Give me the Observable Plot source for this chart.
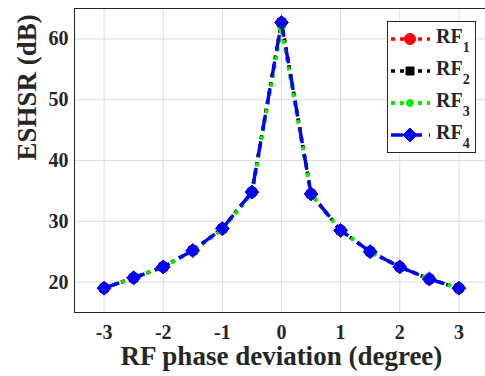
<!DOCTYPE html>
<html>
<head>
<meta charset="utf-8">
<script src="https://cdn.jsdelivr.net/npm/d3@7"></script>
<script src="https://cdn.jsdelivr.net/npm/@observablehq/plot@0.6"></script>
<style>
  html, body { margin: 0; padding: 0; background: #fff; }
  #wrap { position: relative; width: 485px; height: 376px; overflow: hidden; }
  #legend { position: absolute; left: 387px; top: 21px; }
  text { font-family: "Liberation Serif", "Times New Roman", serif; }
</style>
</head>
<body>
<div id="wrap"></div>
<script>
// ---- data ----
const phase = [-3, -2.5, -2, -1.5, -1, -0.5, 0, 0.5, 1, 1.5, 2, 2.5, 3];
const rf1 = [19.0, 20.7, 22.5, 25.2, 28.8, 34.8, 62.7, 34.5, 28.5, 25.0, 22.5, 20.5, 19.0];
const rf2 = [19.0, 20.7, 22.5, 25.2, 28.8, 34.8, 62.7, 34.5, 28.5, 25.0, 22.5, 20.5, 19.0];
const rf3 = [19.0, 20.7, 22.5, 25.1, 28.6, 34.6, 61.8, 34.5, 28.5, 25.0, 22.5, 20.5, 19.0];
const rf4 = [19.0, 20.7, 22.5, 25.2, 28.8, 34.8, 62.7, 34.5, 28.5, 25.0, 22.5, 20.5, 19.0];
const seriesNames = ["1", "2", "3", "4"];
const xTicks = [-3, -2, -1, 0, 1, 2, 3];
const yTicks = [20, 30, 40, 50, 60];
const xLabel = "RF phase deviation (degree)";
const yLabel = "ESHSR (dB)";

const styles = [
  {color: "#ff0000", dash: "4,5", symbol: "circle", r: 5.5, width: 3.5},
  {color: "#000000", dash: "4,5", symbol: "square", r: 4.5, width: 3.5},
  {color: "#00ee00", dash: "4,5", symbol: "circle", r: 3.5, width: 3.8},
  {color: "#0000ff", dash: "16,11", symbol: "diamond2", r: 6.3, width: 3.4}
];
const values = [rf1, rf2, rf3, rf4];

const font = '"Liberation Serif", "Times New Roman", serif';
const marks = [
  Plot.gridX(xTicks, {stroke: "#dcdcdc", strokeOpacity: 1}),
  Plot.gridY(yTicks, {stroke: "#dcdcdc", strokeOpacity: 1}),
  Plot.ruleX([-3.5], {stroke: "#262626"}),
  Plot.ruleY([15, 65], {stroke: "#262626"})
];
values.forEach((vals, k) => {
  const s = styles[k];
  marks.push(Plot.line(vals, {x: phase, y: vals, stroke: s.color, strokeWidth: s.width, strokeDasharray: s.dash, strokeLinecap: "butt", strokeLinejoin: "round"}));
  marks.push(Plot.dot(vals, {x: phase, y: vals, symbol: s.symbol, r: s.r, fill: s.color, stroke: s.color, strokeWidth: 1}));
});
marks.push(
  Plot.axisX(xTicks, {tickSize: 0, tickPadding: 12, fontSize: 20, fontWeight: "bold", fill: "#262626", label: null, tickFormat: d => String(d)}),
  Plot.axisY(yTicks, {tickSize: 0, tickPadding: 6, fontSize: 20, fontWeight: "bold", fill: "#262626", label: null, tickFormat: d => String(d)}),
  Plot.text([xLabel], {x: [0], frameAnchor: "bottom", dy: 44, lineAnchor: "middle", fontSize: 27, fontWeight: "bold", fill: "#262626"}),
  Plot.text([yLabel], {y: [40], frameAnchor: "left", dx: -47, rotate: -90, lineAnchor: "middle", fontSize: 27, fontWeight: "bold", fill: "#262626"})
);

const chart = Plot.plot({
  width: 485, height: 376,
  marginTop: 8, marginBottom: 64, marginLeft: 74, marginRight: 0,
  style: {fontFamily: font, background: "#fff"},
  x: {domain: [-3.5, 3.45], axis: null},
  y: {domain: [15, 65], axis: null},
  marks
});
document.getElementById("wrap").appendChild(chart);

// ---- legend ----
const lw = 88, lh = 131;
const leg = d3.select("#wrap").append("svg").attr("id", "legend")
  .attr("width", lw + 1).attr("height", lh + 1);
leg.append("rect").attr("x", 0.5).attr("y", 0.5).attr("width", lw).attr("height", lh)
  .attr("fill", "#fff").attr("stroke", "#262626");
seriesNames.forEach((n, k) => {
  const s = styles[k];
  const cy = 18 + k * 32;
  leg.append("line").attr("x1", 4).attr("x2", 43).attr("y1", cy).attr("y2", cy)
    .attr("stroke", s.color).attr("stroke-width", s.width).attr("stroke-dasharray", k === 3 ? "12,7" : s.dash);
  const sym = {circle: d3.symbolCircle, square: d3.symbolSquare, diamond2: d3.symbolDiamond2}[s.symbol];
  leg.append("path").attr("d", d3.symbol(sym, Math.PI * s.r * s.r)())
    .attr("transform", `translate(23,${cy})`).attr("fill", s.color).attr("stroke", s.color);
  const t = leg.append("text").attr("x", 49).attr("y", cy + 4)
    .attr("font-size", 20).attr("font-weight", "bold").attr("fill", "#262626");
  t.append("tspan").text("RF");
  t.append("tspan").attr("dy", 8.5).attr("font-size", 14).text(n);
});
</script>
</body>
</html>
